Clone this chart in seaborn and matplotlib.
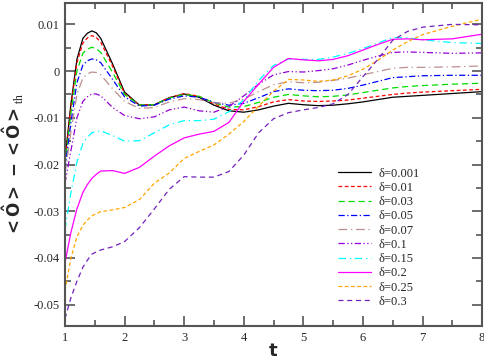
import numpy as np
import pandas as pd
import matplotlib
matplotlib.use("Agg")
import matplotlib.pyplot as plt
from matplotlib.ticker import MultipleLocator
import seaborn as sns

# time grid (shared by all curves)
t = [1.0, 1.1, 1.2, 1.3, 1.375, 1.45, 1.525, 1.6, 1.8, 2.0, 2.25, 2.5, 2.75, 3.0,
     3.25, 3.5, 3.75, 4.0, 4.25, 4.5, 4.75, 5.0, 5.25, 5.5, 5.75, 6.0, 6.25,
     6.5, 6.75, 7.0, 7.5, 8.0]

# values, in units of 1e-3
d0001 = [-19, -7, 2.5, 7, 8.1, 8.6, 8.2, 7, 1.5, -4.5, -7.3, -7.2, -5.7, -4.9,
         -5.6, -7.3, -8.5, -8.8, -8.3, -7.5, -6.9, -7.2, -7.4, -7.3, -7.0, -6.6, -6.1,
         -5.6, -5.4, -5.2, -4.8, -4.4]
d001 = [-19.5, -7.5, 1.8, 6, 7.1, 7.6, 7.2, 6.2, 1, -4.8, -7.3, -7.2, -5.7, -4.8,
        -5.4, -7.0, -8.2, -8.3, -7.6, -6.6, -6.1, -6.4, -6.5, -6.4, -6.2, -5.8, -5.4,
        -5.0, -4.7, -4.5, -4.2, -3.9]
d003 = [-20, -9, 0, 3.8, 4.7, 5.1, 4.8, 4.0, -0.3, -5.0, -7.3, -7.2, -5.8, -5.0,
        -5.4, -6.8, -7.7, -7.6, -6.7, -5.6, -5.0, -5.3, -5.5, -5.4, -5.1, -4.6, -4.1,
        -3.6, -3.3, -3.1, -2.8, -2.6]
d005 = [-21, -11, -2.5, 1.3, 2.2, 2.6, 2.4, 1.8, -1.8, -5.5, -7.5, -7.3, -6.0, -5.3,
        -5.6, -6.7, -7.3, -6.9, -5.7, -4.4, -3.8, -4.1, -4.2, -4.1, -3.7, -3.0, -2.2,
        -1.4, -1.2, -1.0, -0.9, -0.9]
d007 = [-22, -13, -5, -1.5, -0.6, -0.2, -0.3, -0.8, -3.8, -6.5, -8.0, -7.8, -6.6, -5.9,
        -6.1, -6.8, -6.9, -6.0, -4.4, -2.9, -2.3, -2.5, -2.4, -2.0, -1.5, -0.8, -0.1,
        0.6, 0.8, 0.8, 0.9, 1.1]
d01 = [-24, -17, -10, -6.5, -5.5, -4.9, -4.9, -5.3, -7.8, -9.5, -10.2, -9.8, -8.3, -7.7,
       -8.5, -8.8, -7.6, -5.3, -2.8, -0.8, -0.1, -0.2, 0.1, 0.5, 1.3, 2.3, 3.2,
       4.0, 4.1, 4.0, 3.8, 3.9]
d015 = [-34, -26, -19.5, -15.5, -14.2, -13.2, -12.9, -12.8, -13.8, -15.0, -14.9, -13.2, -11.5, -10.6,
        -10.6, -10.3, -8.7, -6.2, -2.0, 1.2, 2.6, 2.5, 2.5, 3.0, 3.8, 4.8, 6.0,
        7.2, 7.1, 6.7, 6.1, 5.9]
d02 = [-41, -34.5, -29.5, -26, -24.3, -23, -22.1, -21.4, -21.3, -21.9, -20.6, -18.2, -16.0, -14.3,
       -13.5, -12.9, -11.0, -6.5, -2.8, 0.8, 2.7, 2.4, 2.2, 2.5, 3.3, 4.5, 5.7,
       6.8, 6.9, 6.7, 6.9, 7.9]
d025 = [-47, -40, -35.5, -33, -31.9, -31, -30.5, -30.1, -29.7, -29.2, -27.5, -24, -21.8, -18.7,
        -17.2, -15.8, -13.5, -10.8, -7.5, -4.3, -1.8, -1.9, -2.2, -1.9, -1.0, 0.4, 2.3,
        4.5, 6.3, 7.8, 9.6, 11.1]
d03 = [-53, -48.5, -45, -42, -40.5, -39.2, -38.7, -38.3, -37.6, -36.5, -33.5, -29.5, -25.3, -22.6,
       -22.7, -22.7, -21.5, -18, -13.2, -10.2, -8.9, -8.3, -7.8, -7.0, -5.0, -1.2, 2.5,
       6.6, 8.5, 9.4, 10.0, 9.9]

labels = ["δ=0.001", "δ=0.01", "δ=0.03", "δ=0.05", "δ=0.07",
          "δ=0.1", "δ=0.15", "δ=0.2", "δ=0.25", "δ=0.3"]
series = [d0001, d001, d003, d005, d007, d01, d015, d02, d025, d03]

# grace-like colours and dash patterns
colors = ["#000000", "#FF0000", "#00DD00", "#0000FF", "#BC8F8F",
          "#9400D3", "#00FFFF", "#FF00FF", "#FFA500", "#7221BC"]
styles = ["-", (0, (3, 2)), (0, (5, 3)), (0, (5, 2, 1, 2)), (0, (7, 3, 1, 3)),
          (0, (5, 2, 1, 2, 1, 2)), (0, (6, 3, 1, 3)), "-", (0, (3, 2)), (0, (4, 3))]

sns.set_theme(style="ticks")
plt.rcParams["font.family"] = ["Liberation Serif", "DejaVu Serif"]
plt.rcParams["mathtext.fontset"] = "custom"
plt.rcParams["mathtext.rm"] = "Liberation Serif"
plt.rcParams["mathtext.bf"] = "DejaVu Sans:bold"

fig = plt.figure(figsize=(4.85, 3.6), dpi=100)
ax = fig.add_axes([0.134, 0.094, 0.860, 0.898])

for lab, vals, c, ls in zip(labels, series, colors, styles):
    df = pd.DataFrame({"t": t, "v": np.array(vals) * 1e-3})
    sns.lineplot(data=df, x="t", y="v", ax=ax, color=c, linestyle=ls,
                 linewidth=0.9, label=lab)

ax.set_xlim(1, 8)
ax.set_ylim(-0.0546, 0.0146)
ax.xaxis.set_major_locator(MultipleLocator(1))
ax.xaxis.set_minor_locator(MultipleLocator(0.5))
ax.yaxis.set_major_locator(MultipleLocator(0.01))
ax.yaxis.set_minor_locator(MultipleLocator(0.005))
ax.yaxis.set_major_formatter(plt.FuncFormatter(lambda v, p: "0" if abs(v) < 1e-9 else f"{v:g}"))
ax.tick_params(which="both", direction="in", top=True, right=True, labelsize=9,
               color="#555555", width=1.2, pad=4)
ax.tick_params(which="major", length=7)
ax.tick_params(which="minor", length=4)
for s in ax.spines.values():
    s.set_color("#555555")
    s.set_linewidth(1.5)

ax.set_xlabel("t", fontsize=13, fontweight="bold", family="DejaVu Sans", labelpad=-1)
ax.set_ylabel(r"$\mathbf{<\hat{O}>\,-<\hat{O}>}_{\mathrm{th}}$", fontsize=12, labelpad=5)

ax.legend(loc="upper left", bbox_to_anchor=(0.64, 0.51), frameon=False,
          fontsize=9, handlelength=2.6, labelspacing=0.18, handletextpad=0.6,
          borderpad=0)

fig.savefig("out.png", dpi=100)
